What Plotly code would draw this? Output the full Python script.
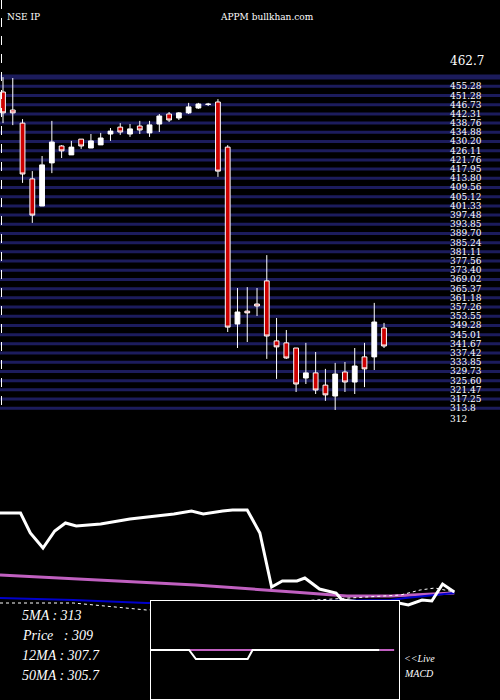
import plotly.graph_objects as go
import numpy as np

opens  = [452.8,444.7,438.8,413.7,401.5,420.9,428.5,424.5,431.6,427.6,429.0,433.9,437.0,433.9,437.5,434.4,438.4,442.9,441.1,443.4,445.6,447.4,448.3,428.0,348.4,354.2,357.4,367.8,340.8,339.9,337.6,324.1,326.4,320.9,316.0,326.8,322.3,333.6,333.6,346.6]
closes = [443.4,443.4,415.9,397.4,420.0,430.3,426.3,428.0,428.5,430.8,432.1,435.2,434.8,436.2,435.7,438.0,442.0,440.2,443.4,446.1,447.4,447.2,417.2,347.0,353.8,353.4,356.5,343.0,338.1,333.1,321.4,326.4,318.7,316.5,325.9,322.3,329.5,328.2,349.3,338.5]
highs  = [459.5,459.1,440.6,417.2,424.0,439.8,428.9,430.8,431.6,433.9,434.4,436.6,438.8,438.4,439.8,439.8,442.9,443.8,443.8,447.9,447.9,447.9,449.6,428.9,364.6,365.0,364.6,379.4,351.1,345.7,337.6,339.9,335.8,328.2,330.9,331.3,337.6,339.9,357.9,348.9]
lows   = [438.8,437.9,411.9,393.9,401.5,416.3,423.1,424.5,427.2,427.6,429.0,430.8,433.5,432.6,433.9,432.6,434.8,439.3,440.2,442.9,445.2,446.5,414.6,344.8,337.6,340.3,352.0,332.7,323.7,332.7,317.8,321.4,316.9,313.8,309.7,317.8,316.9,320.0,327.7,337.6]
idx = list(range(len(opens)))

price_labels = ["462.7","455.28","451.28","446.73","442.31","438.76","434.88","430.20","426.11","421.76","417.95","413.80","409.56","405.12","401.33","397.48","393.85","389.70","385.24","381.11","377.56","373.40","369.02","365.37","361.18","357.26","353.55","349.28","345.01","341.67","337.42","333.85","329.73","325.60","321.47","317.25","313.8","312"]

# indicator panel (arbitrary units)
ind_x = [0,2.1,3.1,4.4,5.6,6.7,7.8,10.3,13.3,17.8,19.6,20.8,22.8,23.8,25.3,26.6,27.8,28.9,30.4,31.2,32.7,34.4,35.0,40.0,40.8,41.8,43.2,44.2,45.3,46.5]
ind_y = [87,87,67,52,69,77,74,76,81,86,89,86,89,90,90,67,13,19,19,22,11,7,0,-5,-3,-5,0,-1,16,8]
sig_x = [0,10,20,30,35.5,40,44,46.5]
sig_y = [25,20,15,8,4,4,6,7]
ema_x = [0,4,7.5,15,40,41.5,46.5]
ema_y = [2,1,0,-3,0,2,7]
dot_x = [0,7.5,15,41,43,44.5,46.5]
dot_y = [-3,-3,-10,5,10,12,8]
macd_x = [0,4,4.7,10,10.5,23.5]
macd_y = [0,0,-9,-9,0,0]
macd_sig_x = [4,10.5]
macd_sig_y = [0,0]
macd_sig2_x = [23.5,25]
macd_sig2_y = [0,0]
macd_box_x = [0,25.6,25.6,0,0]
macd_box_y = [-50,-50,50,50,-50]

fig = go.Figure()
fig.add_trace(go.Candlestick(x=idx, open=opens, high=highs, low=lows, close=closes,
    increasing=dict(fillcolor="white", line=dict(color="white", width=1)),
    decreasing=dict(fillcolor="#cc0000", line=dict(color="white", width=1)),
    whiskerwidth=0, xaxis="x", yaxis="y"))

s = 9.77
fig.add_trace(go.Scatter(x=sig_x, y=sig_y, mode="lines", line=dict(color="#c060c0", width=3), xaxis="x2", yaxis="y2"))
fig.add_trace(go.Scatter(x=ema_x, y=ema_y, mode="lines", line=dict(color="#0000cc", width=2), xaxis="x2", yaxis="y2"))
fig.add_trace(go.Scatter(x=dot_x, y=dot_y, mode="lines", line=dict(color="white", width=1, dash="dot"), xaxis="x2", yaxis="y2"))
fig.add_trace(go.Scatter(x=ind_x, y=ind_y, mode="lines", line=dict(color="white", width=3), xaxis="x2", yaxis="y2"))
fig.add_trace(go.Scatter(x=macd_box_x, y=macd_box_y, mode="lines", fill="toself", fillcolor="black",
                         line=dict(color="white", width=2), xaxis="x3", yaxis="y3", cliponaxis=False))
fig.add_trace(go.Scatter(x=macd_sig_x, y=macd_sig_y, mode="lines", line=dict(color="#c060c0", width=2), xaxis="x3", yaxis="y3"))
fig.add_trace(go.Scatter(x=macd_sig2_x, y=macd_sig2_y, mode="lines", line=dict(color="#c060c0", width=2), xaxis="x3", yaxis="y3"))
fig.add_trace(go.Scatter(x=macd_x, y=macd_y, mode="lines", line=dict(color="white", width=2), xaxis="x3", yaxis="y3"))

shapes = []
levels = np.linspace(459.5, 310.5, 37)
for i, lv in enumerate(levels):
    shapes.append(dict(type="line", xref="paper", yref="y", x0=0, x1=1, y0=lv, y1=lv,
                       line=dict(color="#1c1c5c", width=5 if i == 0 else 3), layer="below"))
shapes.append(dict(type="line", xref="paper", yref="paper", x0=0.003, x1=0.003, y0=1, y1=1-410/700,
                   line=dict(color="white", width=1, dash="dash")))

ann = []
for i, t in enumerate(price_labels):
    yv = 462.7 if i == 0 else levels[i] if i < len(levels) else levels[-1] - 5
    ann.append(dict(x=448/500, y=yv, xref="paper", yref="y", text=t, showarrow=False,
                    xanchor="left", yanchor="bottom" if i == 0 else "middle",
                    font=dict(color="white", size=12 if i == 0 else 9, family="DejaVu Serif")))
ann.append(dict(x=5/500, y=1-10/700, xref="paper", yref="paper", text="NSE IP", showarrow=False,
                xanchor="left", font=dict(color="white", size=9, family="DejaVu Serif")))
ann.append(dict(x=218/500, y=1-10/700, xref="paper", yref="paper", text="APPM bullkhan.com", showarrow=False,
                xanchor="left", font=dict(color="white", size=9, family="DejaVu Serif")))
for t, yy in [("5MA : 313", 625), ("Price   : 309", 645), ("12MA : 307.7", 665), ("50MA : 305.7", 685)]:
    ann.append(dict(x=20/500, y=1-yy/700, xref="paper", yref="paper", text="<i>"+t+"</i>", showarrow=False,
                    xanchor="left", font=dict(color="white", size=14, family="Liberation Serif")))
ann.append(dict(x=402/500, y=1-666/700, xref="paper", yref="paper", text="<i>&lt;&lt;Live</i>", showarrow=False,
                xanchor="left", font=dict(color="white", size=10, family="Liberation Serif")))
ann.append(dict(x=402/500, y=1-681/700, xref="paper", yref="paper", text="<i>MACD</i>", showarrow=False,
                xanchor="left", font=dict(color="white", size=10, family="Liberation Serif")))

ax = dict(visible=False, showgrid=False, zeroline=False, fixedrange=True)
fig.update_layout(
    width=500, height=700, margin=dict(l=0, r=0, t=0, b=0, pad=0, autoexpand=False),
    paper_bgcolor="black", plot_bgcolor="rgba(0,0,0,0)", showlegend=False,
    xaxis=dict(ax, range=[-3/s, 500/s - 3/s], domain=[0, 1], rangeslider=dict(visible=False)),
    yaxis=dict(ax, range=[494.2 - 0.45*700, 494.2], domain=[0, 1]),
    xaxis2=dict(ax, range=[0, 500/s], domain=[0, 1], anchor="y2"),
    yaxis2=dict(ax, range=[-100, 600], domain=[0, 1], anchor="x2"),
    xaxis3=dict(ax, range=[0, 25.6], domain=[150/500, 400/500], anchor="y3"),
    yaxis3=dict(ax, range=[-50, 50], domain=[0, 100/700], anchor="x3"),
    shapes=shapes, annotations=ann)
fig.write_html("out.html", config={"displayModeBar": False},
               post_script="document.body.style.margin='0';document.body.style.background='black';")
